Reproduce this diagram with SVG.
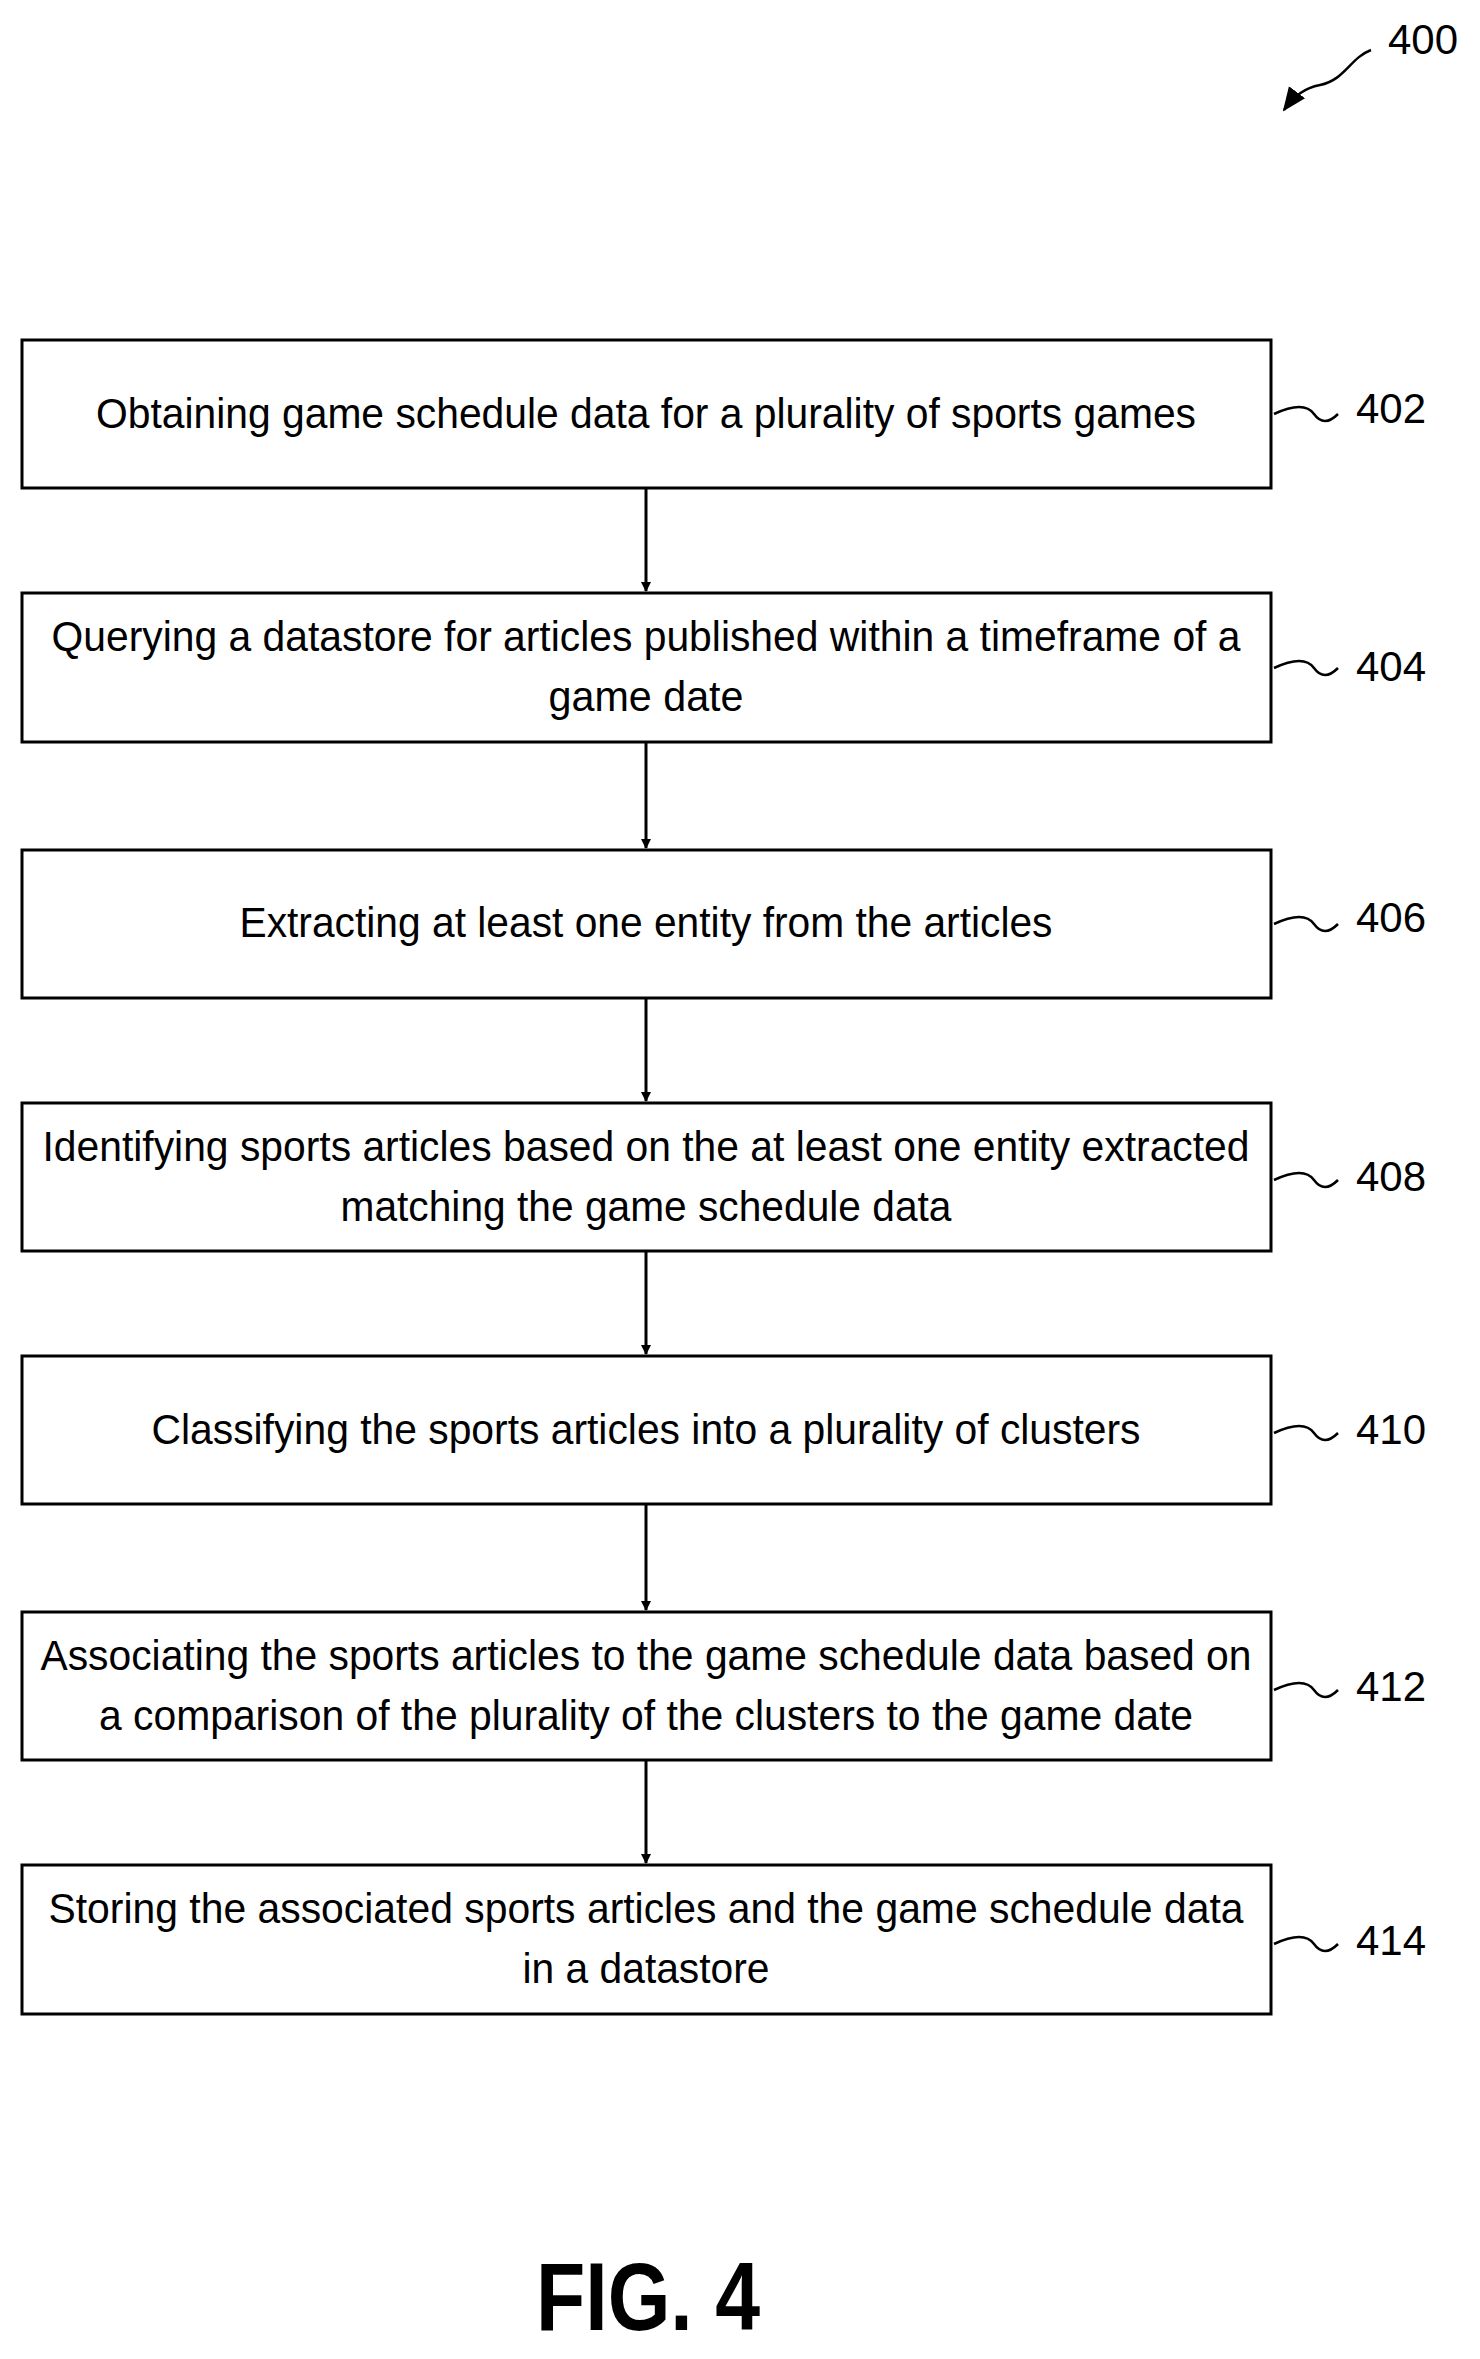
<svg xmlns="http://www.w3.org/2000/svg" width="1480" height="2359" viewBox="0 0 1480 2359">
<style>
.b{fill:#fff;stroke:#000;stroke-width:3}
.t{font-family:"Liberation Sans",Arial,sans-serif;font-size:42px;fill:#000;text-anchor:middle}
.l{font-family:"Liberation Sans",Arial,sans-serif;font-size:42px;fill:#000}
.c{fill:none;stroke:#000;stroke-width:2.5}
.a{stroke:#000;stroke-width:3;marker-end:url(#ah)}
</style>
<defs><marker id="ah" markerWidth="10" markerHeight="10" refX="9" refY="5" orient="auto" markerUnits="userSpaceOnUse" viewBox="0 0 10 10"><path d="M0,0L10,5L0,10z" transform="scale(1)"/></marker>
<marker id="ah2" markerWidth="24" markerHeight="24" refX="22" refY="12" orient="auto" markerUnits="userSpaceOnUse"><path d="M0,2L24,12L0,22z"/></marker></defs>
<text class="l" x="1388" y="54">400</text>
<path d="M1371,50 C1350,58 1345,80 1320,85 C1305,88 1295,95 1284,110" fill="none" stroke="#000" stroke-width="2.5" marker-end="url(#ah2)"/>
<g id="n402"><rect class="b" x="22" y="340" width="1249" height="148"/><text class="t" x="646" y="428" textLength="1100" lengthAdjust="spacingAndGlyphs">Obtaining game schedule data for a plurality of sports games</text><path class="c" d="M1274,414 q30,-14 40,0 t24,0"/><text class="l" x="1356" y="423">402</text></g>
<g id="n404"><rect class="b" x="22" y="593" width="1249" height="149"/><text class="t" x="646" y="651" textLength="1189" lengthAdjust="spacingAndGlyphs">Querying a datastore for articles published within a timeframe of a</text><text class="t" x="646" y="711" textLength="195" lengthAdjust="spacingAndGlyphs">game date</text><path class="c" d="M1274,668 q30,-14 40,0 t24,0"/><text class="l" x="1356" y="681">404</text></g>
<g id="n406"><rect class="b" x="22" y="850" width="1249" height="148"/><text class="t" x="646" y="937" textLength="813" lengthAdjust="spacingAndGlyphs">Extracting at least one entity from the articles</text><path class="c" d="M1274,924 q30,-14 40,0 t24,0"/><text class="l" x="1356" y="932">406</text></g>
<g id="n408"><rect class="b" x="22" y="1103" width="1249" height="148"/><text class="t" x="646" y="1161" textLength="1207" lengthAdjust="spacingAndGlyphs">Identifying sports articles based on the at least one entity extracted</text><text class="t" x="646" y="1221" textLength="611" lengthAdjust="spacingAndGlyphs">matching the game schedule data</text><path class="c" d="M1274,1180 q30,-14 40,0 t24,0"/><text class="l" x="1356" y="1191">408</text></g>
<g id="n410"><rect class="b" x="22" y="1356" width="1249" height="148"/><text class="t" x="646" y="1444" textLength="989" lengthAdjust="spacingAndGlyphs">Classifying the sports articles into a plurality of clusters</text><path class="c" d="M1274,1433 q30,-14 40,0 t24,0"/><text class="l" x="1356" y="1444">410</text></g>
<g id="n412"><rect class="b" x="22" y="1612" width="1249" height="148"/><text class="t" x="646" y="1670" textLength="1211" lengthAdjust="spacingAndGlyphs">Associating the sports articles to the game schedule data based on</text><text class="t" x="646" y="1730" textLength="1094" lengthAdjust="spacingAndGlyphs">a comparison of the plurality of the clusters to the game date</text><path class="c" d="M1274,1690 q30,-14 40,0 t24,0"/><text class="l" x="1356" y="1701">412</text></g>
<g id="n414"><rect class="b" x="22" y="1865" width="1249" height="149"/><text class="t" x="646" y="1923" textLength="1195" lengthAdjust="spacingAndGlyphs">Storing the associated sports articles and the game schedule data</text><text class="t" x="646" y="1983" textLength="247" lengthAdjust="spacingAndGlyphs">in a datastore</text><path class="c" d="M1274,1944 q30,-14 40,0 t24,0"/><text class="l" x="1356" y="1955">414</text></g>
<g id="connectors">
<line class="a" x1="646" y1="488" x2="646" y2="591" marker-end="url(#ah2)"/>
<line class="a" x1="646" y1="742" x2="646" y2="848" marker-end="url(#ah2)"/>
<line class="a" x1="646" y1="998" x2="646" y2="1101" marker-end="url(#ah2)"/>
<line class="a" x1="646" y1="1251" x2="646" y2="1354" marker-end="url(#ah2)"/>
<line class="a" x1="646" y1="1504" x2="646" y2="1610" marker-end="url(#ah2)"/>
<line class="a" x1="646" y1="1760" x2="646" y2="1863" marker-end="url(#ah2)"/>
</g>
<text x="648" y="2330" font-family="Liberation Sans,Arial,sans-serif" font-weight="bold" font-size="96" text-anchor="middle" textLength="224" lengthAdjust="spacingAndGlyphs">FIG. 4</text>
</svg>
